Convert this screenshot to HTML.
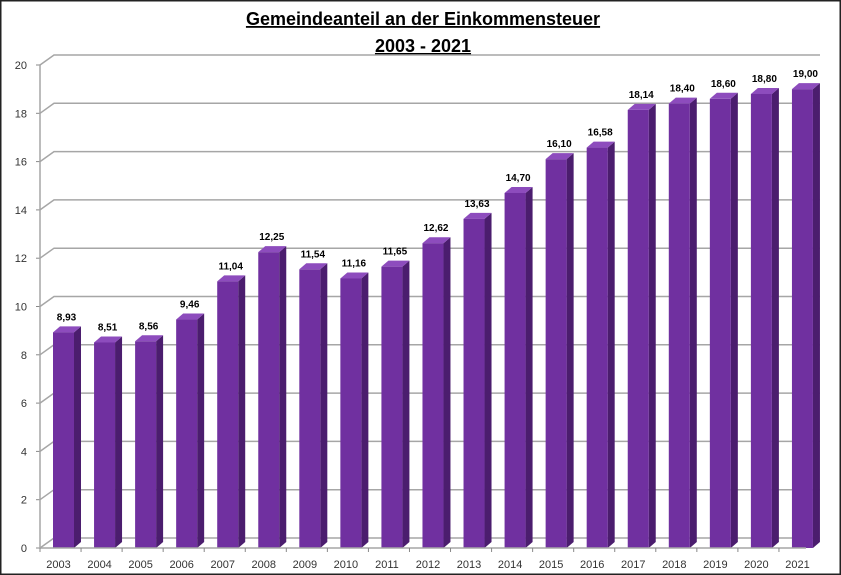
<!DOCTYPE html>
<html><head><meta charset="utf-8"><style>
html,body{margin:0;padding:0;background:#fff;}
svg{display:block;font-family:"Liberation Sans",sans-serif;}
</style></head><body>
<svg id="c" width="841" height="575">
<rect x="0.5" y="0.5" width="840" height="574" fill="#fff" stroke="#222" stroke-width="2"/>
<text x="423" y="25" text-anchor="middle" font-size="18" font-weight="bold" text-decoration="underline">Gemeindeanteil an der Einkommensteuer</text>
<text x="423" y="52" text-anchor="middle" font-size="18" font-weight="bold" text-decoration="underline">2003 - 2021</text>
<g id="grid"></g><g id="bars"></g><g id="axes"></g>
</svg>
<script>
const categories=["2003","2004","2005","2006","2007","2008","2009","2010","2011","2012","2013","2014","2015","2016","2017","2018","2019","2020","2021"];
const values=[8.93,8.51,8.56,9.46,11.04,12.25,11.54,11.16,11.65,12.62,13.63,14.70,16.10,16.58,18.14,18.40,18.60,18.80,19.00];
const valueLabels=["8,93","8,51","8,56","9,46","11,04","12,25","11,54","11,16","11,65","12,62","13,63","14,70","16,10","16,58","18,14","18,40","18,60","18,80","19,00"];
const yTicks=[0,2,4,6,8,10,12,14,16,18,20];
const NS="http://www.w3.org/2000/svg";
const X0=40,X1=820,Y0=548,Y20=65,DX=14,DY=10;
const y=v=>Y0-(v/20)*(Y0-Y20);
const slot=(X1-X0)/categories.length;
const x=i=>X0+i*slot;
function mk(tag,attrs,parent){const e=document.createElementNS(NS,tag);for(const k in attrs)e.setAttribute(k,attrs[k]);parent.appendChild(e);return e;}
const grid=document.getElementById('grid'),bars=document.getElementById('bars'),axes=document.getElementById('axes');
yTicks.forEach(t=>{
  const p=mk('polyline',{points:`${X0},${y(t)} ${X0+DX},${y(t)-DY} ${X1},${y(t)-DY}`,fill:'none',stroke:'#a6a6a6','stroke-width':1.5},grid);
  
  
  const tk=mk('line',{x1:X0-4,y1:y(t),x2:X0,y2:y(t),stroke:'#888'},axes);
  
  
  const tx=mk('text',{x:X0-13,y:y(t)+4,'text-anchor':'end','font-size':11,fill:'#333'},axes);
  tx.textContent=t;
  
  
});
mk('line',{x1:X0,y1:Y20,x2:X0,y2:Y0,stroke:'#a6a6a6','stroke-width':1.5},axes);
const bl=mk('line',{x1:X0,y1:Y0,x2:X1-DX,y2:Y0,stroke:'#a6a6a6','stroke-width':1.5},axes);


const bw=21,bd=7,bdy=6;
categories.forEach((c,i)=>{
  const bx=x(i)+13,top=y(values[i]);
  const g=mk('g',{},bars);
  
  
  mk('polygon',{points:`${bx+bw},${top} ${bx+bw+bd},${top-bdy} ${bx+bw+bd},${Y0-bdy} ${bx+bw},${Y0}`,fill:'#4b1d6e'},g);
  mk('polygon',{points:`${bx},${top} ${bx+bd},${top-bdy} ${bx+bw+bd},${top-bdy} ${bx+bw},${top}`,fill:'#8d4cbd'},g);
  mk('rect',{x:bx,y:top,width:bw,height:Y0-top,fill:'#7030a0'},g);
  const lb=mk('text',{x:bx+bw/2+3,y:top-12,'text-anchor':'middle','font-size':10,'font-weight':'bold',fill:'#000'},bars);
  lb.textContent=valueLabels[i];
  
  
  const tk=mk('line',{x1:x(i),y1:Y0,x2:x(i),y2:Y0+4,stroke:'#888'},axes);
  
  
  const tx=mk('text',{x:x(i)+slot/2-2,y:Y0+20,'text-anchor':'middle','font-size':11,fill:'#333'},axes);
  tx.textContent=c;
  
  
});
</script>
</body></html>
